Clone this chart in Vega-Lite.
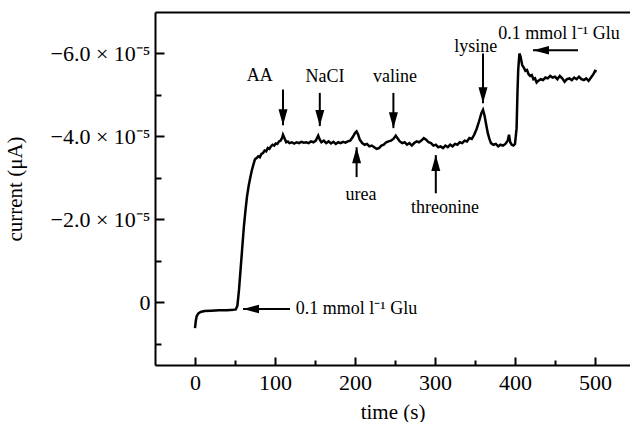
{
  "$schema": "https://vega.github.io/schema/vega-lite/v6.json",
  "autosize": "none",
  "width": 475,
  "height": 353,
  "padding": {"left": 155, "top": 12, "right": 0, "bottom": 57},
  "background": "white",
  "config": {
    "view": {"stroke": null},
    "font": "Liberation Serif",
    "axis": {
      "domainColor": "black",
      "domainWidth": 2,
      "tickColor": "black",
      "tickWidth": 2,
      "labelFont": "Liberation Serif",
      "titleFont": "Liberation Serif",
      "labelColor": "black",
      "titleColor": "black",
      "titleFontWeight": "normal",
      "grid": false
    }
  },
  "datasets": {
    "trace": [
      {"t":0,"v":0.62},{"t":1,"v":0.45},{"t":2,"v":0.34},{"t":4,"v":0.27},{"t":7,"v":0.23},{"t":12,"v":0.21},{"t":20,"v":0.2},{"t":30,"v":0.19},{"t":40,"v":0.19},{"t":48,"v":0.18},{"t":51,"v":0.17},{"t":53,"v":0.08},{"t":55,"v":-0.3},{"t":57,"v":-0.8},{"t":59,"v":-1.3},{"t":61,"v":-1.8},{"t":63,"v":-2.2},{"t":65,"v":-2.55},{"t":67,"v":-2.8},{"t":69,"v":-3.0},{"t":71,"v":-3.18},{"t":73,"v":-3.32},{"t":75,"v":-3.45},{"t":77,"v":-3.48},{"t":79,"v":-3.52},{"t":81,"v":-3.5},{"t":83,"v":-3.58},{"t":85,"v":-3.6},{"t":87,"v":-3.66},{"t":89,"v":-3.64},{"t":91,"v":-3.72},{"t":93,"v":-3.7},{"t":95,"v":-3.76},{"t":97,"v":-3.8},{"t":99,"v":-3.78},{"t":101,"v":-3.83},{"t":103,"v":-3.82},{"t":105,"v":-3.88},{"t":107,"v":-3.9},{"t":109,"v":-3.97},{"t":110,"v":-4.04},{"t":112,"v":-3.95},{"t":114,"v":-3.86},{"t":116,"v":-3.88},{"t":118,"v":-3.84},{"t":121,"v":-3.86},{"t":124,"v":-3.83},{"t":127,"v":-3.86},{"t":130,"v":-3.84},{"t":133,"v":-3.87},{"t":136,"v":-3.85},{"t":139,"v":-3.86},{"t":142,"v":-3.84},{"t":145,"v":-3.88},{"t":148,"v":-3.86},{"t":151,"v":-3.9},{"t":154,"v":-4.02},{"t":156,"v":-3.92},{"t":158,"v":-3.86},{"t":161,"v":-3.9},{"t":164,"v":-3.84},{"t":167,"v":-3.88},{"t":170,"v":-3.83},{"t":173,"v":-3.87},{"t":176,"v":-3.82},{"t":179,"v":-3.86},{"t":182,"v":-3.84},{"t":185,"v":-3.87},{"t":188,"v":-3.85},{"t":191,"v":-3.88},{"t":194,"v":-3.9},{"t":197,"v":-3.98},{"t":200,"v":-4.08},{"t":202,"v":-4.12},{"t":204,"v":-4.04},{"t":206,"v":-3.92},{"t":209,"v":-3.84},{"t":212,"v":-3.8},{"t":215,"v":-3.82},{"t":218,"v":-3.76},{"t":221,"v":-3.78},{"t":224,"v":-3.74},{"t":227,"v":-3.7},{"t":230,"v":-3.72},{"t":233,"v":-3.78},{"t":236,"v":-3.8},{"t":239,"v":-3.86},{"t":242,"v":-3.88},{"t":245,"v":-3.9},{"t":248,"v":-3.94},{"t":251,"v":-4.02},{"t":253,"v":-3.96},{"t":256,"v":-3.88},{"t":259,"v":-3.84},{"t":262,"v":-3.86},{"t":265,"v":-3.8},{"t":268,"v":-3.84},{"t":271,"v":-3.78},{"t":274,"v":-3.84},{"t":277,"v":-3.88},{"t":280,"v":-3.86},{"t":283,"v":-3.9},{"t":286,"v":-3.96},{"t":289,"v":-3.92},{"t":292,"v":-3.86},{"t":295,"v":-3.84},{"t":298,"v":-3.78},{"t":301,"v":-3.8},{"t":304,"v":-3.74},{"t":307,"v":-3.76},{"t":310,"v":-3.72},{"t":313,"v":-3.78},{"t":316,"v":-3.74},{"t":319,"v":-3.8},{"t":322,"v":-3.76},{"t":325,"v":-3.82},{"t":328,"v":-3.8},{"t":331,"v":-3.86},{"t":334,"v":-3.84},{"t":337,"v":-3.9},{"t":340,"v":-3.88},{"t":343,"v":-3.96},{"t":346,"v":-3.94},{"t":349,"v":-4.04},{"t":352,"v":-4.18},{"t":355,"v":-4.36},{"t":358,"v":-4.56},{"t":360,"v":-4.64},{"t":362,"v":-4.5},{"t":364,"v":-4.28},{"t":366,"v":-4.08},{"t":368,"v":-3.94},{"t":370,"v":-3.84},{"t":373,"v":-3.8},{"t":376,"v":-3.82},{"t":379,"v":-3.76},{"t":382,"v":-3.8},{"t":385,"v":-3.78},{"t":388,"v":-3.82},{"t":391,"v":-3.9},{"t":392.5,"v":-4.04},{"t":394,"v":-3.86},{"t":396,"v":-3.8},{"t":398,"v":-3.78},{"t":400,"v":-3.82},{"t":402,"v":-4.2},{"t":403,"v":-5.0},{"t":404,"v":-5.6},{"t":405.5,"v":-6.0},{"t":407,"v":-5.92},{"t":409,"v":-5.72},{"t":411,"v":-5.66},{"t":413,"v":-5.58},{"t":415,"v":-5.6},{"t":417,"v":-5.5},{"t":419,"v":-5.46},{"t":421,"v":-5.48},{"t":423,"v":-5.38},{"t":425,"v":-5.4},{"t":427,"v":-5.3},{"t":429,"v":-5.34},{"t":432,"v":-5.38},{"t":435,"v":-5.36},{"t":438,"v":-5.42},{"t":441,"v":-5.4},{"t":444,"v":-5.46},{"t":447,"v":-5.42},{"t":450,"v":-5.44},{"t":453,"v":-5.38},{"t":456,"v":-5.46},{"t":459,"v":-5.4},{"t":462,"v":-5.32},{"t":465,"v":-5.38},{"t":468,"v":-5.4},{"t":471,"v":-5.36},{"t":474,"v":-5.42},{"t":477,"v":-5.38},{"t":480,"v":-5.44},{"t":483,"v":-5.38},{"t":486,"v":-5.36},{"t":489,"v":-5.4},{"t":492,"v":-5.34},{"t":495,"v":-5.42},{"t":498,"v":-5.5},{"t":500,"v":-5.58},{"t":502,"v":-5.56}
    ],
    "arrows": [
      {"t1":110,"v1":-5.13,"t2":110,"v2":-4.27,"dir":"down"},
      {"t1":156,"v1":-5.05,"t2":156,"v2":-4.25,"dir":"down"},
      {"t1":248,"v1":-5.05,"t2":248,"v2":-4.2,"dir":"down"},
      {"t1":360,"v1":-6.0,"t2":360,"v2":-4.8,"dir":"down"},
      {"t1":202,"v1":-3.02,"t2":202,"v2":-3.74,"dir":"up"},
      {"t1":301,"v1":-2.63,"t2":301,"v2":-3.55,"dir":"up"},
      {"t1":478.75,"v1":-6.08,"t2":422.5,"v2":-6.08,"dir":"left"},
      {"t1":118.75,"v1":0.16,"t2":60,"v2":0.16,"dir":"left"}
    ],
    "labels": [
      {"t":81,"v":-5.45,"label":"AA","align":"center"},
      {"t":162.5,"v":-5.43,"label":"NaCI","align":"center"},
      {"t":250,"v":-5.43,"label":"valine","align":"center"},
      {"t":207.5,"v":-2.59,"label":"urea","align":"center"},
      {"t":312.5,"v":-2.27,"label":"threonine","align":"center"},
      {"t":351,"v":-6.15,"label":"lysine","align":"center"},
      {"t":455,"v":-6.47,"label":"0.1 mmol l⁻¹ Glu","align":"center"},
      {"t":126,"v":0.16,"label":"0.1 mmol l⁻¹ Glu","align":"left"}
    ]
  },
  "layer": [
    {
      "data": {"name": "trace"},
      "mark": {"type": "line", "color": "black", "strokeWidth": 2.5, "interpolate": "linear"},
      "encoding": {
        "x": {
          "field": "t", "type": "quantitative",
          "scale": {"domain": [-50, 543.75], "nice": false, "zero": false},
          "axis": {
            "orient": "bottom",
            "title": "time (s)",
            "titleFontSize": 21,
            "titlePadding": 8,
            "values": [0, 50, 100, 150, 200, 250, 300, 350, 400, 450, 500],
            "labelExpr": "datum.value % 100 === 0 ? datum.label : ''",
            "labelFontSize": 22,
            "labelPadding": 15,
            "tickSize": {"condition": {"test": "datum.value % 100 !== 0", "value": -5}, "value": -8}
          }
        },
        "y": {
          "field": "v", "type": "quantitative",
          "scale": {"domain": [1.51, -7], "nice": false, "zero": false},
          "axis": {
            "title": "current (μA)",
            "titleFontSize": 21,
            "titlePadding": 25,
            "values": [-6, -5, -4, -3, -2, -1, 0, 1],
            "labelExpr": "datum.value % 2 !== 0 ? '' : (datum.value === 0 ? '0' : '−' + format(abs(datum.value), '.1f') + ' × 10⁻⁵')",
            "labelFontSize": 22,
            "labelPadding": 14,
            "tickSize": {"condition": {"test": "datum.value % 2 !== 0", "value": -6}, "value": -9}
          }
        }
      }
    },
    {
      "data": {"name": "arrows"},
      "mark": {"type": "rule", "color": "black", "strokeWidth": 2},
      "encoding": {
        "x": {"field": "t1", "type": "quantitative", "axis": {"orient": "top", "ticks": false, "labels": false, "title": null, "domainWidth": 2}},
        "x2": {"field": "t2"},
        "y": {"field": "v1", "type": "quantitative"},
        "y2": {"field": "v2"}
      }
    },
    {
      "data": {"name": "arrows"},
      "mark": {"type": "point", "filled": true, "color": "black", "opacity": 1, "size": 100},
      "encoding": {
        "x": {"field": "t2", "type": "quantitative", "axis": null},
        "y": {"field": "v2", "type": "quantitative"},
        "shape": {
          "field": "dir", "type": "nominal", "legend": null,
          "scale": {"domain": ["down", "up", "left"], "range": ["M0,0L-0.9,-3.2L0.9,-3.2Z", "M0,0L-0.9,3.2L0.9,3.2Z", "M0,0L3.2,-0.85L3.2,0.85Z"]}
        }
      }
    },
    {
      "data": {"name": "labels"},
      "transform": [{"filter": "datum.align === 'center'"}],
      "mark": {"type": "text", "font": "Liberation Serif", "fontSize": 18, "color": "black", "baseline": "middle", "align": "center"},
      "encoding": {
        "x": {"field": "t", "type": "quantitative", "axis": null},
        "y": {"field": "v", "type": "quantitative"},
        "text": {"field": "label"}
      }
    },
    {
      "data": {"name": "labels"},
      "transform": [{"filter": "datum.align === 'left'"}],
      "mark": {"type": "text", "font": "Liberation Serif", "fontSize": 18, "color": "black", "baseline": "middle", "align": "left"},
      "encoding": {
        "x": {"field": "t", "type": "quantitative", "axis": null},
        "y": {"field": "v", "type": "quantitative"},
        "text": {"field": "label"}
      }
    }
  ],
  "resolve": {"axis": {"x": "independent"}}
}
